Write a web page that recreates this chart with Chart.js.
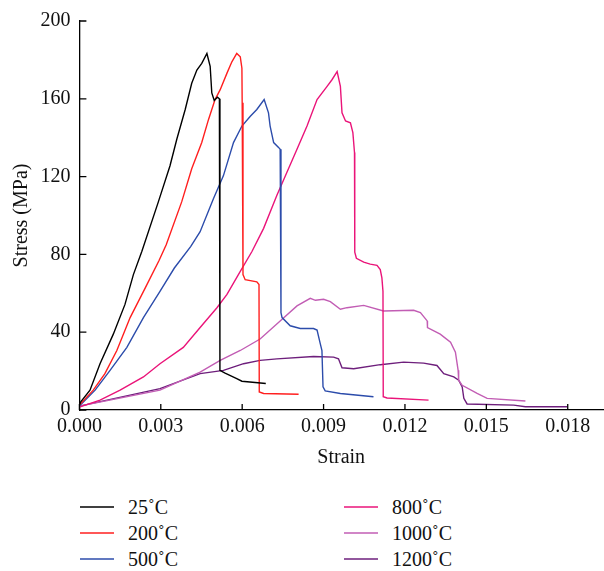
<!DOCTYPE html>
<html>
<head>
<meta charset="utf-8">
<script src="https://cdn.jsdelivr.net/npm/chart.js@4"></script>
<style>
  html, body { margin: 0; padding: 0; background: #fff; }
  #wrap { position: relative; width: 604px; height: 571px; font-family: "Liberation Serif", "Times New Roman", serif; }
  #chartBox { position: absolute; left: 0; top: 0; width: 604px; height: 480px; }
  .legend-item { position: absolute; height: 24px; display: flex; align-items: center; font-size: 20px; color: #111; }
  .legend-item .swatch { width: 34px; height: 2px; margin-right: 14px; }
</style>
</head>
<body>
<div id="wrap">
  <div id="chartBox"><canvas id="stressChart"></canvas></div>
  <div id="legend"></div>
</div>
<script>
// Stress-strain curves at each test temperature
const seriesLabels = ['25˚C', '200˚C', '500˚C', '800˚C', '1000˚C', '1200˚C'];
const seriesColors = ['#000000', '#ff1f1f', '#2c4cab', '#ea1479', '#c25db4', '#6e1f7c'];

const strain25 = [0, 0.00005, 0.00039, 0.00076, 0.00125, 0.00168, 0.00199, 0.0023, 0.00291, 0.00334, 0.00359, 0.0039, 0.00414, 0.00433, 0.00451, 0.0047, 0.00482, 0.00488, 0.00497, 0.00509, 0.00516, 0.00518, 0.00537, 0.0058, 0.00599, 0.00687];
const stress25 = [2.5, 4.2, 10.2, 23.8, 39, 54.3, 69.6, 81.5, 107, 125.6, 139.2, 154.5, 168, 174.8, 178.2, 183.3, 176.7, 163, 159.2, 160.8, 160, 20.4, 19, 16.1, 14.8, 13.6];

const strain200 = [0, 0.00051, 0.00094, 0.00138, 0.00187, 0.0024, 0.00294, 0.0032, 0.00377, 0.00414, 0.00451, 0.00476, 0.005, 0.00519, 0.00544, 0.00562, 0.0058, 0.00593, 0.00599, 0.006, 0.00603, 0.00611, 0.00654, 0.00662, 0.00663, 0.00679, 0.00808];
const stress200 = [2.5, 10.2, 18.7, 30.6, 47.5, 62, 77, 85, 107, 124, 137.5, 149.4, 159.6, 164.7, 173.2, 179, 183.3, 181.6, 175.7, 158, 69.6, 67, 65.9, 64.5, 9.3, 8.5, 8.1];

const strain500 = [0, 0.00058, 0.00113, 0.00175, 0.00236, 0.00297, 0.0035, 0.0041, 0.00445, 0.00494, 0.00531, 0.00568, 0.00599, 0.0063, 0.00654, 0.00681, 0.00697, 0.00703, 0.00716, 0.00734, 0.0074, 0.00743, 0.00747, 0.00777, 0.00814, 0.00863, 0.00876, 0.00888, 0.00894, 0.00898, 0.00906, 0.00962, 0.01084];
const stress500 = [2, 10.2, 20.4, 32.2, 47.5, 61, 73, 84, 91.7, 108.6, 120.5, 137.5, 146, 151, 154.5, 159.6, 152.8, 146, 137.5, 135, 134, 50, 47.5, 43.3, 41.9, 41.9, 41.1, 34, 30.6, 11.9, 9.8, 8.5, 6.8];

const strain800 = [0, 0.00076, 0.0015, 0.00236, 0.00297, 0.00383, 0.00445, 0.00507, 0.00544, 0.00593, 0.00636, 0.00679, 0.00728, 0.00765, 0.00802, 0.00839, 0.00876, 0.00913, 0.00931, 0.0095, 0.00962, 0.00968, 0.00981, 0.00999, 0.01008, 0.01014, 0.01015, 0.01021, 0.01048, 0.01072, 0.01097, 0.01109, 0.01115, 0.01119, 0.0112, 0.01134, 0.01287];
const stress800 = [1.5, 5.1, 10.2, 17, 23.8, 32.2, 42.4, 52.6, 59.4, 71.3, 81.5, 93.4, 110.4, 122.2, 134.1, 146, 159.6, 166.4, 169.8, 174, 166.4, 152.8, 148.6, 147.7, 142.6, 132.4, 81.2, 78, 76, 75, 74.4, 72.2, 67.9, 61, 6.8, 6.2, 5.1];

const strain1000 = [0, 0.00297, 0.00445, 0.00519, 0.00593, 0.00666, 0.0074, 0.00802, 0.00851, 0.0087, 0.009, 0.00925, 0.00962, 0.00986, 0.01048, 0.01121, 0.01232, 0.01257, 0.01282, 0.01283, 0.0133, 0.01368, 0.01386, 0.01396, 0.01398, 0.01411, 0.01466, 0.01503, 0.01644];
const stress1000 = [2, 10.2, 19.5, 25.5, 30.6, 36.5, 45.8, 53.5, 57.4, 56.4, 56.9, 55.7, 51.8, 52.6, 53.8, 50.9, 51.3, 50.1, 45.8, 42.4, 39, 34.8, 29.7, 20.4, 15.3, 12.7, 8.5, 6, 4.6];

const strain1200 = [0, 0.00297, 0.00445, 0.00531, 0.00605, 0.00666, 0.00728, 0.00863, 0.00937, 0.00955, 0.00968, 0.01011, 0.01109, 0.01195, 0.01269, 0.01318, 0.01343, 0.0138, 0.01398, 0.01411, 0.01417, 0.01429, 0.01601, 0.01644, 0.01798];
const stress1200 = [2, 11, 18.7, 20.4, 23.8, 25.5, 26.3, 27.5, 27.2, 26.3, 21.7, 21.2, 23.3, 24.6, 24.1, 22.9, 18.7, 17, 15.3, 11.9, 6, 3.1, 2.5, 1.7, 1.7];

const strainTicks = [0, 0.003, 0.006, 0.009, 0.012, 0.015, 0.018];
const stressTicks = [0, 40, 80, 120, 160, 200];

const strainSets = [strain25, strain200, strain500, strain800, strain1000, strain1200];
const stressSets = [stress25, stress200, stress500, stress800, stress1000, stress1200];

const FONT = { family: '"Liberation Serif", "Times New Roman", serif', size: 20 };

// inward tick marks on both axes
const inwardTicks = {
  id: 'inwardTicks',
  afterDraw(chart) {
    const { ctx, chartArea, scales } = chart;
    ctx.save();
    ctx.strokeStyle = '#000';
    ctx.lineWidth = 1.3;
    ctx.beginPath();
    strainTicks.forEach(v => {
      const px = scales.x.getPixelForValue(v);
      ctx.moveTo(px, chartArea.bottom);
      ctx.lineTo(px, chartArea.bottom - 6);
    });
    stressTicks.forEach(v => {
      const py = scales.y.getPixelForValue(v);
      ctx.moveTo(chartArea.left, py);
      ctx.lineTo(chartArea.left + 7, py);
    });
    ctx.stroke();
    ctx.restore();
  }
};

new Chart(document.getElementById('stressChart'), {
  type: 'line',
  data: {
    datasets: seriesLabels.map((label, i) => ({
      label,
      data: strainSets[i].map((x, j) => ({ x, y: stressSets[i][j] })),
      borderColor: seriesColors[i],
      borderWidth: 1.4,
      pointRadius: 0,
      tension: 0,
      fill: false
    }))
  },
  options: {
    responsive: true,
    maintainAspectRatio: false,
    animation: false,
    layout: { padding: { top: 17, right: 1, bottom: 10, left: 0 } },
    plugins: { legend: { display: false }, tooltip: { enabled: false } },
    scales: {
      x: {
        type: 'linear',
        min: 0,
        max: 0.0193,
        afterBuildTicks: s => { s.ticks = strainTicks.map(value => ({ value })); },
        afterFit: s => { s.height = 60; },
        grid: { display: false, drawTicks: false },
        border: { display: true, color: '#000', width: 1.3 },
        ticks: { color: '#111', font: FONT, padding: 5, maxRotation: 0, callback: v => v.toFixed(3) },
        title: { display: true, text: 'Strain', color: '#111', font: FONT, padding: 0 }
      },
      y: {
        min: 0,
        max: 200,
        afterBuildTicks: s => { s.ticks = stressTicks.map(value => ({ value })); },
        afterFit: s => { s.width = 79.4; },
        grid: { display: false, drawTicks: false },
        border: { display: true, color: '#000', width: 1.3 },
        ticks: { color: '#111', font: FONT, padding: 9 },
        title: { display: true, text: 'Stress (MPa)', color: '#111', font: FONT, padding: { top: 10, bottom: 0 } }
      }
    }
  },
  plugins: [inwardTicks]
});

// two-column legend under the plot
const legendCols = [80, 344];
const legendRows = [507, 533, 559];
const legendEl = document.getElementById('legend');
seriesLabels.forEach((label, i) => {
  const item = document.createElement('div');
  item.className = 'legend-item';
  item.style.left = legendCols[Math.floor(i / 3)] + 'px';
  item.style.top = (legendRows[i % 3] - 12) + 'px';
  item.innerHTML = `<span class="swatch" style="background:${seriesColors[i]};opacity:0.75"></span><span>${label}</span>`;
  legendEl.appendChild(item);
});
</script>
</body>
</html>
